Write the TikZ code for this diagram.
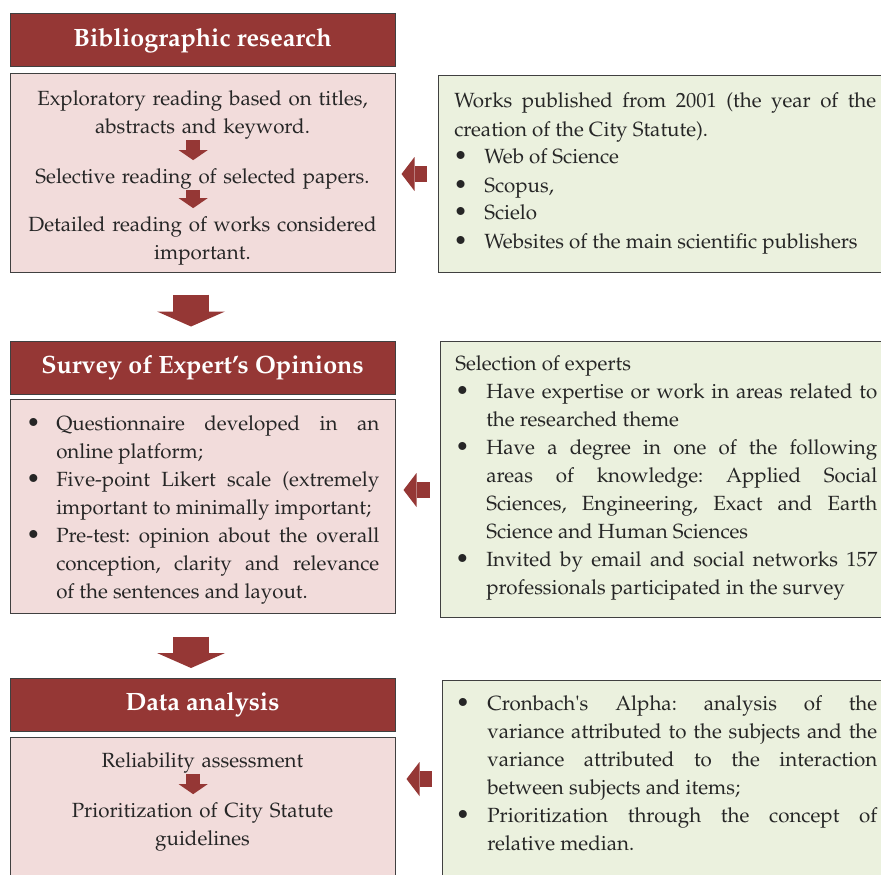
\documentclass[tikz,border=0pt]{standalone}
\usepackage[T1]{fontenc}
\usepackage{mathpazo}
\usepackage{enumitem}
\usetikzlibrary{arrows.meta,fit,calc}

\definecolor{darkred}{HTML}{953735}
\definecolor{pinkfill}{HTML}{F2DCDB}
\definecolor{greenfill}{HTML}{EBF1DE}
\definecolor{boxline}{HTML}{404040}
\definecolor{inktext}{HTML}{262626}

\newcommand{\bodyfont}{\fontsize{15.4pt}{21pt}\selectfont\frenchspacing\hyphenpenalty=10000\exhyphenpenalty=10000}
\newcommand{\dotlabel}{{\fontsize{17.5pt}{21pt}\selectfont\textbullet}}
\setlist[itemize]{label=\dotlabel,leftmargin=22.5pt,labelindent=-0.5pt,labelwidth=8pt,labelsep=*,align=left,topsep=0pt,partopsep=0pt,itemsep=0pt,parsep=0pt}

\begin{document}
\begin{tikzpicture}[x=0.75pt,y=-0.75pt,
  headbox/.style={draw=boxline,line width=0.75pt,fill=darkred,text=white,font=\fontsize{18.8pt}{22pt}\selectfont\bfseries,minimum width=288.75pt,minimum height=39.75pt,inner sep=0pt},
  pinkbox/.style={draw=boxline,line width=0.75pt,fill=pinkfill,inner sep=0pt},
  greenbox/.style={draw=boxline,line width=0.75pt,fill=greenfill,inner sep=0pt},
  ctext/.style={anchor=base,inner sep=0pt,text width=277.5pt,align=center,text=inktext,font=\bodyfont},
  jtext/.style={anchor=base west,inner sep=0pt,text width=316.5pt,align=justify,text=inktext,font=\bodyfont},
  bigarr/.style={darkred,line width=27pt,-{Triangle[width=51pt,length=11.25pt,line width=0pt]}},
  smallarr/.style={darkred,line width=10.5pt,-{Triangle[width=21.75pt,length=7.5pt,line width=0pt]}},
  sidearr/.style={darkred,line width=12pt,-{Triangle[width=25.5pt,length=9.75pt,line width=0pt]}}]
  \useasboundingbox (0,0) rectangle (881,874);

  % bibliographic research
  \node[headbox] (bibhead) at (202.5,40.5) {Bibliographic research};
  \node[pinkbox,fit={(10,74)(395,272)}] (bibbody) {};
  \node[greenbox,fit={(438,76)(895,272)}] (bibsrc) {};
  \node[ctext] (read1) at (202.5,105) {Exploratory reading based on titles,\\ abstracts and keyword.};
  \node[ctext] (read2) at (202.5,183) {Selective reading of selected papers.};
  \node[ctext] (read3) at (202.5,231) {Detailed reading of works considered\\ important.};
  \node[jtext] (srclist) at (454,108) {Works published from 2001 (the year of the\linebreak creation of the City Statute).
    \begin{itemize}
      \item Web of Science
      \item Scopus,
      \item Scielo
      \item Websites of the main scientific publishers
    \end{itemize}};
  \draw[smallarr,shorten <=0.6pt,shorten >=5.8pt] ([xshift=-7pt]read1.south) -- ([xshift=-7pt]read2.north);
  \draw[smallarr,shorten <=0.6pt,shorten >=5.8pt] ([xshift=-7pt]read2.south) -- ([xshift=-7pt]read3.north);
  \coordinate (a1) at (0,174);
  \draw[sidearr,shorten <=8.25pt,shorten >=4.5pt] (bibsrc.west |- a1) -- (bibbody.east |- a1);

  % survey of experts
  \node[headbox] (surveyhead) at (202.5,367.5) {Survey of Expert's Opinions};
  \node[pinkbox,fit={(10,399)(395,613)}] (surveybody) {};
  \node[greenbox,fit={(440,341)(895,617)}] (experts) {};
  \node[jtext,text width=264.75pt] (surveylist) at (26,402) {%
    \begin{itemize}[labelindent=0pt]
      \item Questionnaire developed in an\linebreak online platform;
      \item Five-point Likert scale (extremely\linebreak important to minimally important;
      \item Pre-test: opinion about the overall\linebreak conception, clarity and relevance\linebreak of the sentences and layout.
    \end{itemize}};
  \node[jtext] (expertlist) at (455,370) {Selection of experts
    \begin{itemize}[leftmargin=23.25pt,labelindent=0pt]
      \item Have expertise or work in areas related to\linebreak the researched theme
      \item Have a degree in one of the following\linebreak areas of knowledge: Applied Social\linebreak Sciences, Engineering, Exact and Earth\linebreak Science and Human Sciences
      \item Invited by email and social networks 157\linebreak professionals participated in the survey
    \end{itemize}};
  \draw[bigarr,shorten <=16.5pt,shorten >=10.5pt] ([xshift=-8.6pt]bibbody.south) -- ([xshift=-8.6pt]surveyhead.north);
  \coordinate (a2) at (0,490);
  \draw[sidearr,shorten <=7.5pt,shorten >=6pt] (experts.west |- a2) -- (surveybody.east |- a2);

  % data analysis
  \node[headbox] (datahead) at (202.5,705) {Data analysis};
  \node[pinkbox,fit={(10,737)(395,900)}] (databody) {};
  \node[greenbox,fit={(442,680)(895,900)}] (analysis) {};
  \node[ctext] (step1) at (202.5,767) {Reliability assessment};
  \node[ctext] (step2) at (202.5,817) {Prioritization of City Statute\\ guidelines};
  \node[jtext] (analysislist) at (455,682) {%
    \begin{itemize}[leftmargin=24pt,labelindent=0.5pt]
      \item Cronbach\textquotesingle s Alpha: analysis of the\linebreak variance attributed to the subjects and the\linebreak variance attributed to the interaction\linebreak between subjects and items;
      \item Prioritization through the concept of\linebreak relative median.
    \end{itemize}};
  \draw[smallarr,shorten <=0.6pt,shorten >=5.8pt] ([xshift=-7pt]step1.south) -- ([xshift=-7pt]step2.north);
  \draw[bigarr,shorten <=17.25pt,shorten >=7.5pt] ([xshift=-8.6pt]surveybody.south) -- ([xshift=-8.6pt]datahead.north);
  \coordinate (a3) at (0,779);
  \draw[sidearr,shorten <=7.5pt,shorten >=8.25pt] (analysis.west |- a3) -- (databody.east |- a3);
\end{tikzpicture}
\end{document}
